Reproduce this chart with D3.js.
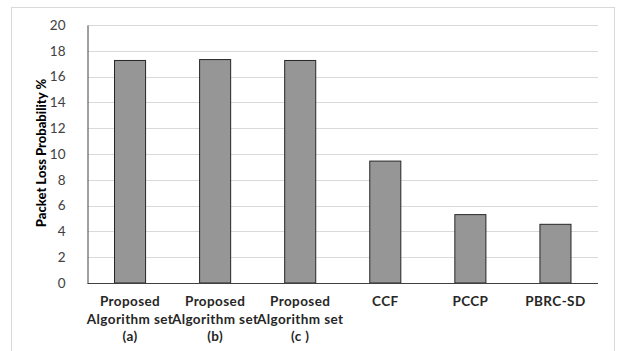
<!DOCTYPE html>
<html><head><meta charset="utf-8">
<script src="https://cdn.jsdelivr.net/npm/d3@7"></script>
<style>body{margin:0;background:#fff;}svg{display:block;}</style>
</head><body>
<svg id="c" width="620" height="351"></svg>
<script>
const categories = [
  ["Proposed","Algorithm set","(a)"],
  ["Proposed","Algorithm set","(b)"],
  ["Proposed","Algorithm set","(c )"],
  ["CCF"],
  ["PCCP"],
  ["PBRC-SD"]
];
const values = [17.25, 17.32, 17.25, 9.45, 5.3, 4.55];
const yTicks = [0,2,4,6,8,10,12,14,16,18,20];
const yLabel = "Packet Loss Probability %";

const svg = d3.select("#c");
const m = {left:87.5, right:598, top:25, bottom:283};
const font = "Lato, 'Open Sans', sans-serif";

// frame
svg.append("rect").attr("x",11.5).attr("y",7.5).attr("width",603).attr("height",360)
  .attr("fill","none").attr("stroke","#d9d9d9").attr("stroke-width",1);

const x = d3.scaleBand().domain(d3.range(categories.length)).range([m.left, m.right]).paddingInner(0.635).paddingOuter(0.3175);
const y = d3.scaleLinear().domain([0,20]).range([m.bottom, m.top]);

// gridlines
svg.append("g").selectAll("line").data(yTicks.filter(d=>d>0)).join("line")
  .attr("x1",m.left).attr("x2",m.right)
  .attr("y1",d=>Math.round(y(d))+0.5).attr("y2",d=>Math.round(y(d))+0.5)
  .attr("stroke","#d9d9d9").attr("stroke-width",1);

// bars
svg.append("g").selectAll("rect").data(values).join("rect")
  .attr("x",(d,i)=>x(i)).attr("width",x.bandwidth())
  .attr("y",d=>y(d)).attr("height",d=>y(0)-y(d))
  .attr("fill","#969696").attr("stroke","#262626").attr("stroke-width",1);

// y axis
const ya = d3.axisLeft(y).tickValues(yTicks).tickSize(0).tickPadding(22);
const gy = svg.append("g").attr("transform",`translate(${m.left},0)`).call(ya);
gy.select(".domain").attr("stroke","#404040");
gy.selectAll("text").attr("font-family",font).attr("font-size",13.5).attr("fill","#404040");

// x axis line
svg.append("line").attr("x1",m.left).attr("x2",m.right).attr("y1",m.bottom+0.5).attr("y2",m.bottom+0.5)
  .attr("stroke","#404040").attr("stroke-width",1);

// category labels
const xl = svg.append("g");
categories.forEach((lines,i)=>{
  const cx = x(i)+x.bandwidth()/2;
  const t = xl.append("text").attr("x",cx).attr("y",306).attr("text-anchor","middle")
    .attr("font-family",font).attr("font-weight","bold").attr("font-size",13.5)
    .attr("letter-spacing",0.4).attr("fill","#262626");
  lines.forEach((s,j)=>t.append("tspan").attr("x",cx).attr("dy",j===0?0:17.5).text(s));
});

// y label
svg.append("text").attr("transform","translate(46,153) rotate(-90)").attr("text-anchor","middle")
  .attr("font-family",font).attr("font-weight","900").attr("font-size",13).attr("fill","#000")
  .text(yLabel);
</script>
</body></html>
